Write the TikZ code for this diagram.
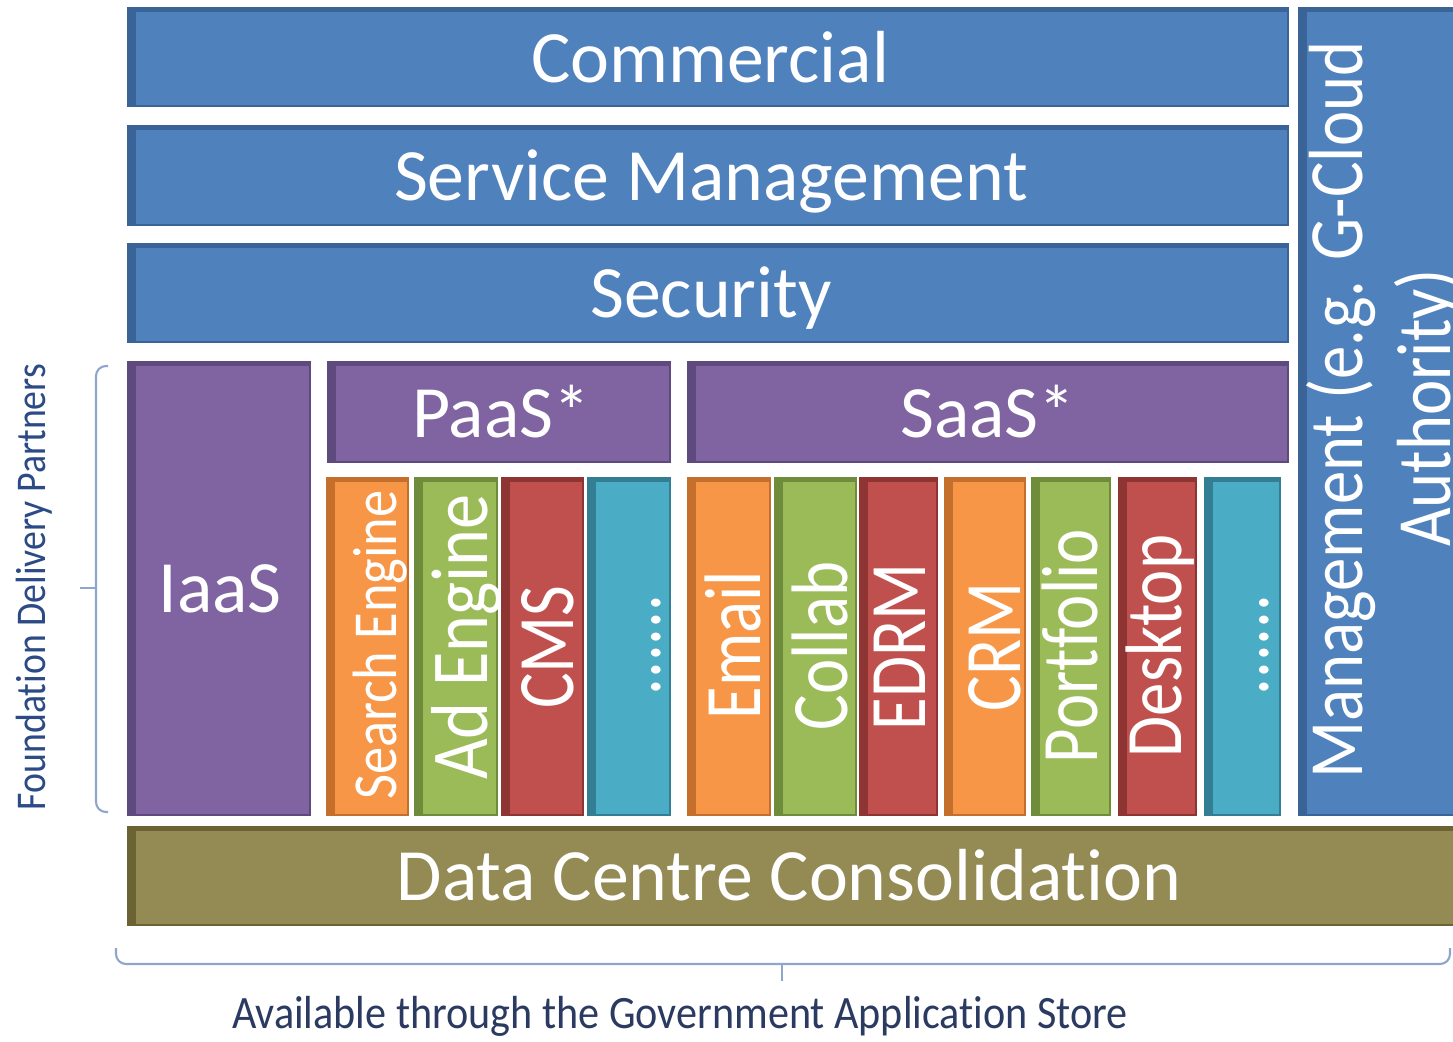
\documentclass[tikz,border=0pt]{standalone}
\usepackage{fontspec}
\setmainfont{Carlito}[Ligatures={NoCommon,NoRare}]
\usetikzlibrary{fit}
\definecolor{cBlue}{HTML}{4F81BD}
\definecolor{cBlueD}{HTML}{3A6497}
\definecolor{cPur}{HTML}{8064A2}
\definecolor{cPurD}{HTML}{5E4A7D}
\definecolor{cOra}{HTML}{F79646}
\definecolor{cOraD}{HTML}{C4702C}
\definecolor{cGrn}{HTML}{9BBB59}
\definecolor{cGrnD}{HTML}{6E8C3A}
\definecolor{cRed}{HTML}{C0504D}
\definecolor{cRedD}{HTML}{8E3533}
\definecolor{cTeal}{HTML}{4BACC6}
\definecolor{cTealD}{HTML}{347E93}
\definecolor{cOli}{HTML}{948A54}
\definecolor{cOliD}{HTML}{6B6333}
\definecolor{cBrace}{HTML}{8FA6CC}
\definecolor{cLbl}{HTML}{2A3A60}
\definecolor{cLblB}{HTML}{2C4A86}
\tikzset{
  bev/.style 2 args={fill=#1, draw=#2, line width=1pt, inner sep=0pt,
    path picture={
      \fill[#2] (path picture bounding box.north west) rectangle ([xshift=0.15cm]path picture bounding box.south west);
      \fill[#2] (path picture bounding box.north west) rectangle ([yshift=-0.08cm]path picture bounding box.north east);
    }},
  bigtxt/.style={text=white, anchor=base, inner sep=0pt, font=\fontsize{42}{48}\selectfont},
  coltxt/.style={text=white, anchor=base, inner sep=0pt, rotate=90, font=\fontsize{38}{44}\selectfont},
  bracel/.style={draw=cBrace, line width=1.2pt, rounded corners=0.2cm},
}
\newcommand{\vst}[2][1.2]{\scalebox{1}[#1]{#2}}
\begin{document}
\begin{tikzpicture}[x=0.02cm,y=-0.02cm]
\useasboundingbox[fill=white] (0,0) rectangle (1453,1041);

% horizontal layers
\node[bev={cBlue}{cBlueD}, fit={(128,8) (1288,106)}] (comm) {};
\node[bigtxt] (comm-t) at (710,82) {Commercial};
\node[bev={cBlue}{cBlueD}, fit={(128,126) (1288,225)}] (sm) {};
\node[bigtxt] (sm-t) at (711,200) {Service Management};
\node[bev={cBlue}{cBlueD}, fit={(128,244) (1288,342)}] (sec) {};
\node[bigtxt] (sec-t) at (711,317) {Security};

% right vertical
\node[bev={cBlue}{cBlueD}, fit={(1299,8) (1460,815)}] (mgmt) {};
\node[coltxt] (mgmt-t1) at (1362,410) {\vst[1.15]{Management (e.g. G-Cloud}};
\node[coltxt] (mgmt-t2) at (1450,408) {\vst[1.15]{Authority)}};

% IaaS / PaaS / SaaS
\node[bev={cPur}{cPurD}, fit={(128,362) (310,815)}] (iaas) {};
\node[bigtxt] (iaas-t) at (220,612) {IaaS};
\node[bev={cPur}{cPurD}, fit={(328,362) (670,462)}] (paas) {};
\node[bigtxt] (paas-t) at (501,437) {PaaS*};
\node[bev={cPur}{cPurD}, fit={(688,362) (1288,462)}] (saas) {};
\node[bigtxt] (saas-t) at (988,437) {SaaS*};

% PaaS columns
\node[bev={cOra}{cOraD}, fit={(327,478) (408,815)}] (se) {};
\node[coltxt, font=\fontsize{31}{36}\selectfont] (se-t) at (396,645) {\vst[1.15]{Search Engine}};
\node[bev={cGrn}{cGrnD}, fit={(415,478) (497,815)}] (ade) {};
\node[coltxt, font=\fontsize{40}{46}\selectfont] (ade-t) at (487,637) {\vst[1.15]{Ad Engine}};
\node[bev={cRed}{cRedD}, fit={(502,478) (583,815)}] (cms) {};
\node[coltxt] (cms-t) at (573,647) {\vst{CMS}};
\node[bev={cTeal}{cTealD}, fit={(588,478) (670,815)}] (pm) {};
\node[coltxt] (pm-t) at (660,645) {\vst{......}};

% SaaS columns
\node[bev={cOra}{cOraD}, fit={(688,478) (770,815)}] (em) {};
\node[coltxt] (em-t) at (760,645) {\vst{Email}};
\node[bev={cGrn}{cGrnD}, fit={(775,478) (856,815)}] (co) {};
\node[coltxt] (co-t) at (847,646) {\vst{Collab}};
\node[bev={cRed}{cRedD}, fit={(860,478) (937,815)}] (ed) {};
\node[coltxt] (ed-t) at (925,647) {\vst{EDRM}};
\node[bev={cOra}{cOraD}, fit={(945,478) (1025,815)}] (crm) {};
\node[coltxt] (crm-t) at (1020,647) {\vst{CRM}};
\node[bev={cGrn}{cGrnD}, fit={(1032,478) (1110,815)}] (pf) {};
\node[coltxt] (pf-t) at (1097,646) {\vst{Portfolio}};
\node[bev={cRed}{cRedD}, fit={(1119,478) (1196,815)}] (dt) {};
\node[coltxt] (dt-t) at (1181,646) {\vst{Desktop}};
\node[bev={cTeal}{cTealD}, fit={(1205,478) (1280,815)}] (sm2) {};
\node[coltxt] (sm2-t) at (1268,645) {\vst{......}};

% data centre
\node[bev={cOli}{cOliD}, fit={(128,827) (1460,925)}] (dc) {};
\node[bigtxt] (dc-t) at (789,900) {Data Centre Consolidation};

% left brace
\coordinate (lb-top) at (108,366);
\coordinate (lb-bot) at (108,812);
\coordinate (lb-mid) at (96,588);
\coordinate (lb-tip) at (80,588);
\draw[bracel] (lb-top) -- (96,366) -- (96,812) -- (lb-bot);
\draw[bracel] (lb-mid) -- (lb-tip);
\node[rotate=90, anchor=base, inner sep=0pt, text=cLblB, font=\fontsize{21.5}{26}\selectfont] (fdp) at (45,587) {\vst[1.12]{Foundation Delivery Partners}};

% bottom brace
\coordinate (bb-l) at (116,948);
\coordinate (bb-r) at (1450,948);
\coordinate (bb-mid) at (782,964);
\coordinate (bb-tip) at (782,981);
\draw[bracel] (bb-l) -- (116,964) -- (1450,964) -- (bb-r);
\draw[bracel] (bb-mid) -- (bb-tip);
\node[anchor=base, inner sep=0pt, text=cLbl, font=\fontsize{24}{28}\selectfont] (avail) at (680,1028) {\vst[1.1]{Available through the Government Application Store}};
\end{tikzpicture}
\end{document}
